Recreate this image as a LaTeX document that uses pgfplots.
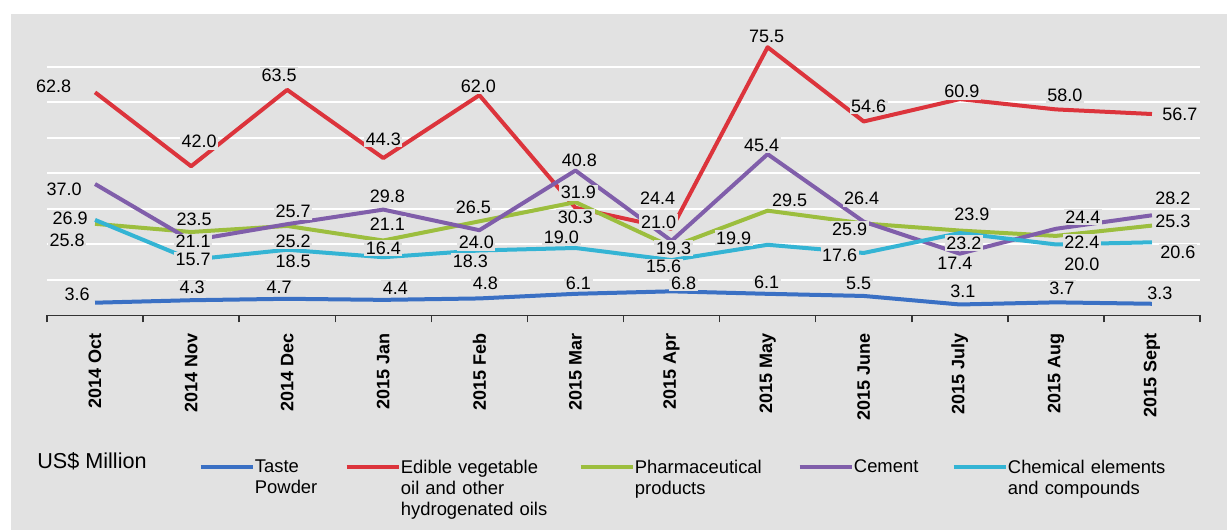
\documentclass[border=0pt]{standalone}
\usepackage{pgfplots}
\pgfplotsset{compat=1.18}
\usepackage{pgfplotstable}
\usepackage{fontspec}
\setmainfont{Liberation Sans}

\definecolor{bg}{RGB}{226,226,226}
\definecolor{cTaste}{RGB}{58,112,196}
\definecolor{cOil}{RGB}{220,52,60}
\definecolor{cPharm}{RGB}{156,190,62}
\definecolor{cCement}{RGB}{128,94,170}
\definecolor{cChem}{RGB}{52,180,212}

% x = month index, y = US$ million, dx/dy = label offset in px (dy up)
\pgfplotstableread{
x y dx dy
0 3.6 -18 8
1 4.3 1 12.5
2 4.7 -8 11
3 4.4 12 12
4 4.8 6 15
5 6.1 3 10.5
6 6.8 12 8
7 6.1 -1 12
8 5.5 -5 13
9 3.1 3 13
10 3.7 6 14
11 3.3 8 10.5
}\tasteT

\pgfplotstableread{
x y dx dy
0 62.8 -41.5 6
1 42.0 8 24.5
2 63.5 -8 15
3 44.3 0 19
4 62.0 -1 9
5 30.3 0 -9
6 24.4 -14 30.5
7 75.5 -1 10.5
8 54.6 5 15
9 60.9 2 7.5
10 58.0 9 14
11 56.7 28 0
}\oilT

\pgfplotstableread{
x y dx dy
0 25.8 -28 -16
1 23.5 3 13
2 25.2 6 -15
3 21.1 4 16.5
4 26.5 -6 14.5
5 31.9 3 9.5
6 19.3 2 -1.5
7 29.5 22 10.7
8 25.9 -14 -6
9 23.9 12 16.5
10 22.4 26 -6
11 25.3 21 4.6
}\pharmT

\pgfplotstableread{
x y dx dy
0 37.0 -31 -5
1 21.1 2 -1
2 25.7 6 12.5
3 29.8 4 13
4 24.0 -3 -12.5
5 40.8 4 10.5
6 21.0 -13 19
7 45.4 -6 9
8 26.4 -2 23
9 17.4 -5 -10
10 24.4 27 12
11 28.2 21 17
}\cementT

\pgfplotstableread{
x y dx dy
0 26.9 -25 2
1 15.7 2 0
2 18.5 6 -12
3 16.4 0 9
4 18.3 -9 -11
5 19.0 -14 10.7
6 15.6 -8 -6.5
7 19.9 -34 6.5
8 17.6 -24 -2
9 23.2 4 -10
10 20.0 26 -20
11 20.6 26 -10
}\chemT

\pgfplotsset{
    lbl/.style={
        draw=none, forget plot, mark=none,
        nodes near coords, point meta=y,
        visualization depends on={\thisrow{dx} \as \dx},
        visualization depends on={\thisrow{dy} \as \dy},
        nodes near coords style={
            anchor=center, inner sep=0.8pt, fill=bg, text=black,
            font=\fontsize{9}{10}\selectfont,
            xshift=\dx*0.5pt, yshift=\dy*0.5pt,
            /pgf/number format/.cd, fixed, fixed zerofill, precision=1,
            assume math mode=true
        }
    }
}
\tikzset{lgd/.style={inner xsep=0pt, inner ysep=0pt, text width=#1}}

\begin{document}
\begin{tikzpicture}
    \fill[white] (0,0) rectangle (613.5pt,265pt);
    \fill[bg] (5.5pt,0) rectangle (613.5pt,258pt);
    \node[anchor=west, inner sep=0pt, font=\fontsize{10.8}{12}\selectfont]
        at (18.5pt,34.5pt) {US\$ Million};

    \begin{axis}[
        at={(23.5pt,107.25pt)}, anchor=south west,
        scale only axis, width=576.5pt, height=142.15pt,
        xmin=-0.5, xmax=11.5, ymin=0, ymax=80,
        clip=false,
        axis x line*=bottom, axis y line*=left,
        y axis line style={draw=none},
        x axis line style={draw=black!80, line width=0.75pt},
        xtick={0,...,11},
        xticklabels={2014 Oct, 2014 Nov, 2014 Dec, 2015 Jan, 2015 Feb, 2015 Mar,
            2015 Apr, 2015 May, 2015 June, 2015 July, 2015 Aug, 2015 Sept},
        xtick style={draw=none},
        extra x ticks={-0.5,0.5,...,11.5},
        extra x tick labels={},
        extra x tick style={xtick style={draw=black!80, line width=0.75pt}},
        tick align=outside, major tick length=3.5pt,
        xticklabel shift=2pt,
        xticklabel style={rotate=90, anchor=east,
            font=\fontsize{9}{10}\selectfont\bfseries},
        ytick={10,20,...,70}, yticklabels={},
        ytick style={draw=none},
        ymajorgrids, grid style={white, line width=1pt},
        /pgf/number format/assume math mode=true,
        legend columns=5,
        legend style={
            at={(0.1318,-0.5083)}, anchor=north west,
            draw=none, fill=none, inner sep=0pt, outer sep=0pt,
            font=\fontsize{9.2}{10.5}\selectfont,
            cells={anchor=north west, align=left},
            /tikz/column sep=0pt
        },
        legend image code/.code={
            \draw[#1] (0pt,-3.5pt) -- (22pt,-3.5pt);
            \path (0pt,-3.5pt) -- (26pt,-3.5pt);
        },
        line join=round
    ]

    \addplot[lbl] table[x=x, y=y] {\tasteT};
    \addplot[lbl] table[x=x, y=y] {\oilT};
    \addplot[lbl] table[x=x, y=y] {\pharmT};
    \addplot[lbl] table[x=x, y=y] {\cementT};
    \addplot[lbl] table[x=x, y=y] {\chemT};

    \addplot[cTaste, line width=2pt, mark=none] table[x=x, y=y] {\tasteT};
    \addlegendentry[lgd=45pt]{Taste\\Powder}
    \addplot[cOil, line width=2pt, mark=none] table[x=x, y=y] {\oilT};
    \addlegendentry[lgd=89pt]{Edible vegetable\\oil and other\\hydrogenated oils}
    \addplot[cPharm, line width=2pt, mark=none] table[x=x, y=y] {\pharmT};
    \addlegendentry[lgd=81.5pt]{Pharmaceutical\\products}
    \addplot[cCement, line width=2pt, mark=none] table[x=x, y=y] {\cementT};
    \addlegendentry[lgd=49pt]{Cement}
    \addplot[cChem, line width=2pt, mark=none] table[x=x, y=y] {\chemT};
    \addlegendentry[lgd=80pt]{Chemical elements\\and compounds}

    \end{axis}
\end{tikzpicture}
\end{document}
